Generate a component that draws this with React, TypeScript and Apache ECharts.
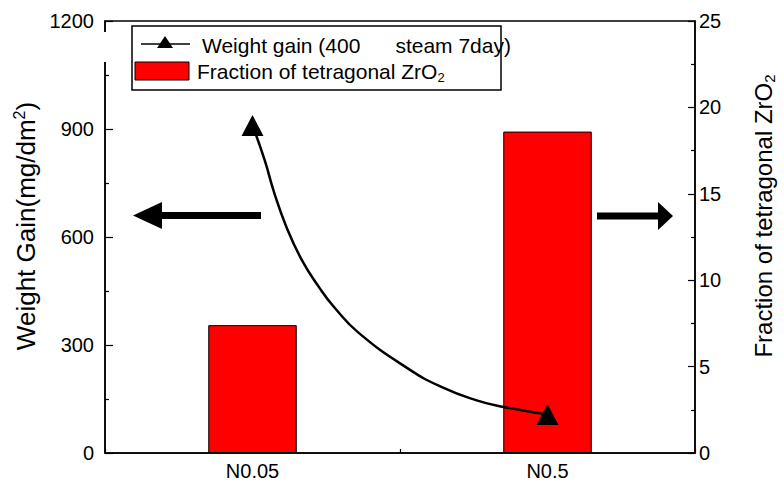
import React, { useEffect, useRef } from 'react';
import * as echarts from 'echarts';

const categories = ['N0.05', 'N0.5'];
const weightGain = [910, 107];
const tetragonalFraction = [7.4, 18.6];
const leftTicks = [0, 300, 600, 900, 1200];
const rightTicks = [0, 5, 10, 15, 20, 25];
// traced fitted curve drawn between the two weight-gain points (x in category units 0..2)
const curvePosition = [0.5, 0.541, 0.574, 0.615, 0.666, 0.726, 0.777, 0.861, 1.03, 1.142, 1.257, 1.351, 1.5];
const curveWeight = [910, 814, 722, 628, 538, 460, 405, 333, 233, 183, 147, 128, 107];

const FONT = '"Liberation Sans", Arial, sans-serif';

export default function App() {
  const ref = useRef<HTMLDivElement>(null);
  useEffect(() => {
    if (!ref.current) return;
    const chart = echarts.init(ref.current, undefined, { renderer: 'svg' });
    const curveData = curvePosition.map((x, i) => [x, curveWeight[i]]);
    chart.setOption({
      animation: false,
      backgroundColor: '#fff',
      textStyle: { fontFamily: FONT, color: '#000' },
      grid: {
        left: 105, right: 89, top: 21, bottom: 34,
        show: true, borderColor: '#000', borderWidth: 1.5,
        outerBoundsMode: 'none',
      },
      legend: { show: false },
      xAxis: [
        {
          type: 'category',
          data: categories,
          position: 'bottom',
          axisLine: { show: true, lineStyle: { color: '#000', width: 1.5 } },
          axisTick: { show: false },
          axisLabel: { color: '#000', fontSize: 20, fontFamily: FONT, margin: 8 },
          splitLine: { show: false },
        },
        {
          type: 'value',
          min: 0, max: 2, interval: 0.5,
          position: 'bottom',
          axisLine: { show: false },
          axisTick: { show: true, inside: true, length: 4, lineStyle: { color: '#000', width: 1.2 } },
          axisLabel: { show: false },
          splitLine: { show: false },
        },
      ],
      yAxis: [
        {
          type: 'value',
          min: 0, max: 1200, interval: 300,
          position: 'left',
          name: 'Weight Gain(mg/dm{sup|2})',
          nameLocation: 'middle',
          nameRotate: 90,
          nameGap: 62,
          nameTextStyle: {
            fontSize: 26, fontFamily: FONT, color: '#000',
            padding: [0, 0, 0, 22],
            rich: { sup: { fontSize: 16, fontFamily: FONT, color: '#000', padding: [0, 0, 12, 0] } },
          },
          axisLine: { show: true, lineStyle: { color: '#000', width: 1.5 } },
          axisTick: { show: true, inside: true, length: 8, lineStyle: { color: '#000', width: 1.2 } },
          minorTick: { show: true, splitNumber: 2, length: 4, lineStyle: { color: '#000', width: 1.2 } },
          axisLabel: {
            color: '#000', fontSize: 20, fontFamily: FONT, margin: 11,
            formatter: (v: number) => (leftTicks.includes(v) ? String(v) : ''),
          },
          splitLine: { show: false },
        },
        {
          type: 'value',
          min: 0, max: 25, interval: 5,
          position: 'right',
          name: 'Fraction of tetragonal ZrO{sub|2}',
          nameLocation: 'middle',
          nameRotate: 90,
          nameGap: 55,
          nameTextStyle: {
            fontSize: 24, fontFamily: FONT, color: '#000',
            padding: [0, 0, 0, 42],
            rich: { sub: { fontSize: 15, fontFamily: FONT, color: '#000', padding: [12, 0, 0, 0] } },
          },
          axisLine: { show: true, lineStyle: { color: '#000', width: 1.5 } },
          axisTick: { show: true, inside: true, length: 7, lineStyle: { color: '#000', width: 1.2 } },
          minorTick: { show: true, splitNumber: 2, length: 4, lineStyle: { color: '#000', width: 1.2 } },
          axisLabel: {
            color: '#000', fontSize: 20, fontFamily: FONT, margin: 4,
            formatter: (v: number) => (rightTicks.includes(v) ? String(v) : ''),
          },
          splitLine: { show: false },
        },
      ],
      series: [
        {
          name: 'Fraction of tetragonal ZrO2',
          type: 'bar',
          xAxisIndex: 0,
          yAxisIndex: 1,
          data: tetragonalFraction,
          barWidth: '30%',
          itemStyle: { color: '#ff0000', borderColor: '#000', borderWidth: 1 },
          z: 2,
        },
        {
          name: 'curve',
          type: 'line',
          xAxisIndex: 1,
          yAxisIndex: 0,
          data: curveData,
          smooth: 0.5,
          showSymbol: false,
          symbol: 'none',
          lineStyle: { color: '#000', width: 2.5 },
          z: 3,
        },
        {
          name: 'Weight gain',
          type: 'line',
          xAxisIndex: 0,
          yAxisIndex: 0,
          data: weightGain,
          symbol: 'triangle',
          symbolSize: [22, 21],
          itemStyle: { color: '#000' },
          lineStyle: { width: 0, opacity: 0 },
          z: 4,
        },
      ],
      graphic: [
        // gap in left axis line as in reference
        { type: 'rect', z: 100, shape: { x: 102, y: 32, width: 6, height: 30 }, style: { fill: '#fff' } },
        // legend box
        { type: 'rect', z: 50, shape: { x: 132, y: 26, width: 369, height: 64 }, style: { fill: '#fff', stroke: '#000', lineWidth: 1.5 } },
        { type: 'line', z: 51, shape: { x1: 141, y1: 44, x2: 190, y2: 44 }, style: { stroke: '#000', lineWidth: 1.5 } },
        { type: 'polygon', z: 52, shape: { points: [[165, 36], [157, 48], [173, 48]] }, style: { fill: '#000' } },
        {
          type: 'text', z: 52, x: 202, y: 45,
          style: { text: 'Weight gain (400\u00a0\u00a0\u00a0\u00a0\u00a0\u00a0steam 7day)', fontSize: 21, fontFamily: FONT, fill: '#000', verticalAlign: 'middle', align: 'left' },
        },
        { type: 'rect', z: 51, shape: { x: 135, y: 62, width: 54, height: 18 }, style: { fill: '#ff0000', stroke: '#000', lineWidth: 1 } },
        {
          type: 'text', z: 52, x: 197, y: 71,
          style: {
            text: 'Fraction of tetragonal ZrO{sub|2}', fontSize: 21, fontFamily: FONT, fill: '#000', verticalAlign: 'middle', align: 'left',
            rich: { sub: { fontSize: 13, fontFamily: FONT, fill: '#000', padding: [12, 0, 0, 0] } },
          },
        },
        // left arrow
        { type: 'line', z: 20, shape: { x1: 160, y1: 215.5, x2: 261, y2: 215.5 }, style: { stroke: '#000', lineWidth: 7 } },
        { type: 'polygon', z: 20, shape: { points: [[133, 215.5], [162, 202], [162, 229]] }, style: { fill: '#000' } },
        // right arrow
        { type: 'line', z: 20, shape: { x1: 597, y1: 216, x2: 660, y2: 216 }, style: { stroke: '#000', lineWidth: 7 } },
        { type: 'polygon', z: 20, shape: { points: [[658, 202], [658, 230], [673, 216]] }, style: { fill: '#000' } },
      ],
    });
    return () => chart.dispose();
  }, []);
  return <div ref={ref} style={{ width: 784, height: 487, position: 'absolute', left: 0, top: 0 }} />;
}
